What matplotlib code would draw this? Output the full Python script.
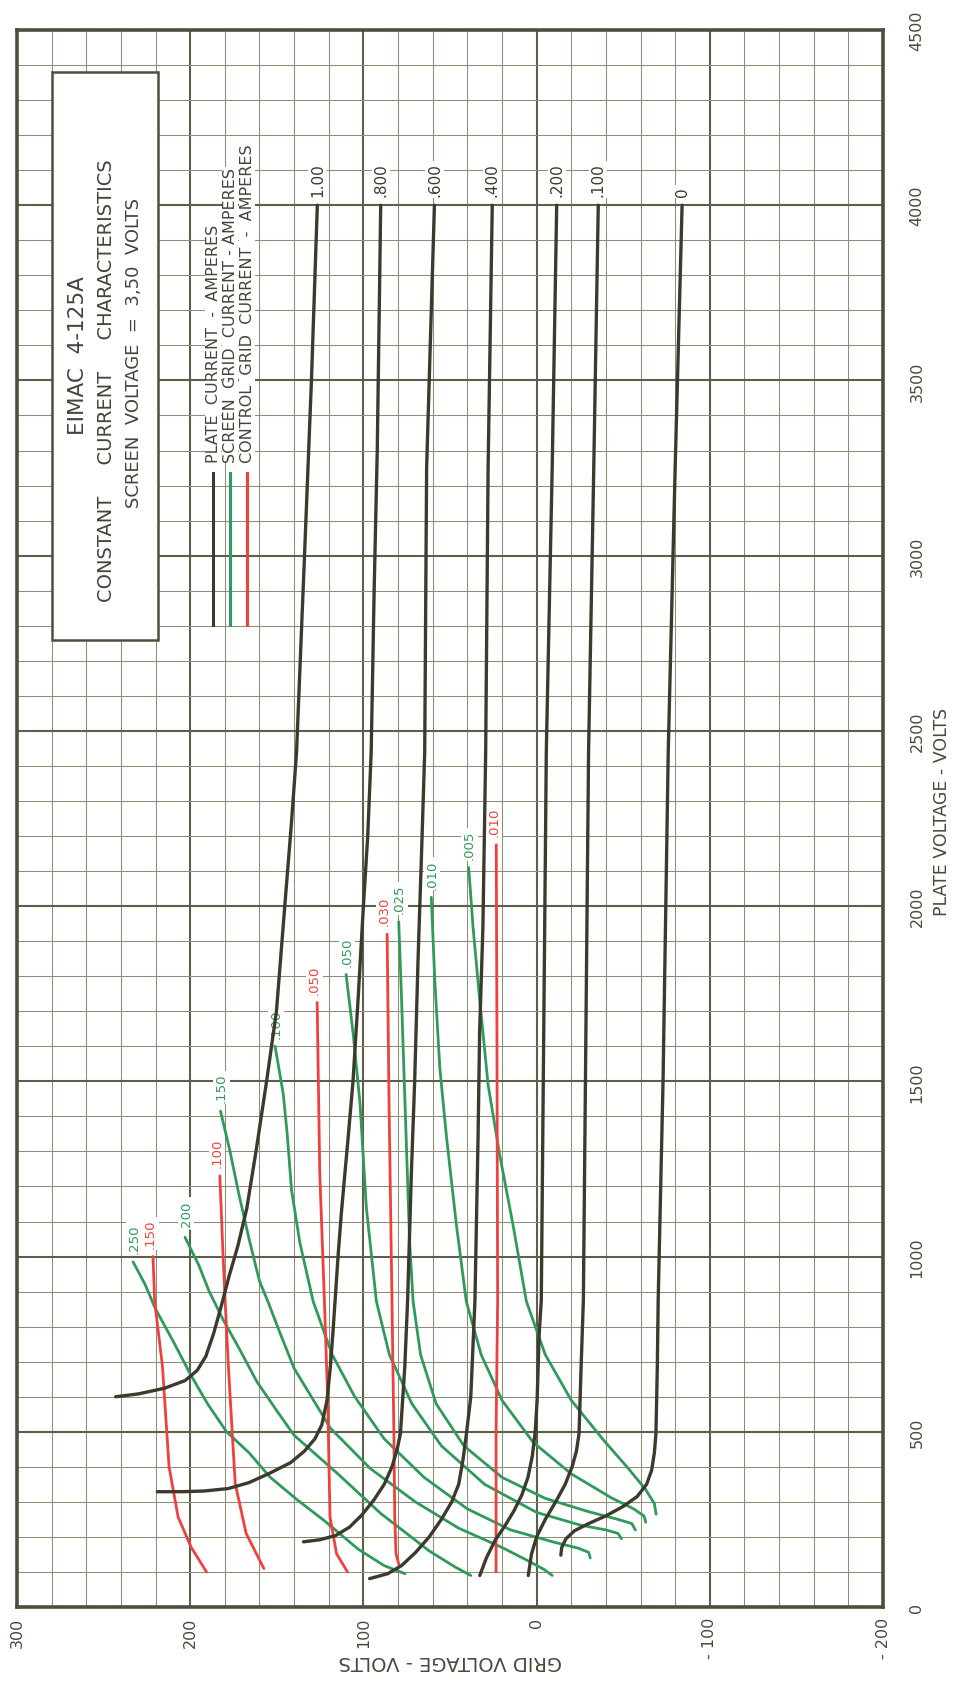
import matplotlib
matplotlib.use('Agg')
import matplotlib.pyplot as plt

# ---------------- data ----------------
grid_ticks = [300, 200, 100, 0, -100, -200]
grid_tick_labels = ['300', '200', '100', '0', '- 100', '- 200']
plate_ticks = [0, 500, 1000, 1500, 2000, 2500, 3000, 3500, 4000, 4500]
plate_tick_labels = ['0', '500', '1000', '1500', '2000', '2500', '3000', '3500', '4000', '4500']

# plate current curves (grid volts, plate volts)
plate_labels = ['1.00', '.800', '.600', '.400', '.200', '.100', '0']
p100_vg = [126.6, 130, 134, 138.6, 141.5, 145.4, 150.2, 155.9, 161.7, 167.3, 172.5, 177.5, 182, 186.5, 191, 196, 203, 215, 230, 243]
p100_vp = [4000, 3500, 3000, 2440, 2240, 2000, 1700, 1500, 1310, 1138, 1030, 945, 860, 780, 715, 675, 646, 624, 608, 600]
p080_vg = [90, 92, 93.8, 95.5, 97.5, 100, 103, 106, 108.8, 111, 112.8, 114.5, 116, 117.5, 119, 121, 124, 128, 134, 142, 154, 166, 178, 192, 205, 219]
p080_vp = [4000, 3300, 2900, 2440, 2200, 2000, 1740, 1500, 1340, 1220, 1120, 1010, 900, 790, 690, 590, 520, 480, 445, 412, 382, 355, 338, 331, 329, 329]
p060_vg = [59, 63.5, 64.6, 66.5, 68.5, 70.4, 72.3, 74.5, 76.1, 78.6, 80.5, 83.5, 88, 94, 101, 108, 116, 125, 134.6]
p060_vp = [4000, 3250, 2440, 2140, 1840, 1500, 1240, 872, 686, 495, 450, 400, 350, 305, 262, 228, 204, 192, 186]
p040_vg = [25.6, 28, 29.4, 31, 32.9, 33.8, 35.6, 38, 40.5, 42.5, 45, 49, 55, 62, 70, 78, 86, 96.4]
p040_vp = [4000, 3250, 2440, 1940, 1640, 1340, 874, 600, 495, 420, 350, 300, 250, 200, 155, 118, 95, 81]
p020_vg = [-11.6, -9, -5.6, -2.7, -1.5, -0.3, 0.8, 2.5, 5, 8.5, 13, 18.5, 24, 29, 32.8]
p020_vp = [4000, 3250, 2440, 874, 781, 590, 500, 430, 370, 320, 275, 230, 190, 140, 90]
p010_vg = [-35.6, -33, -30, -27, -25.7, -24.5, -23, -20.5, -16.5, -11, -5, 0, 3, 4.8]
p010_vp = [4000, 3250, 2440, 876, 686, 495, 445, 400, 350, 300, 250, 200, 150, 90]
p000_vg = [-84, -80, -76, -73, -70.2, -69.7, -68.9, -68, -66.4, -63.5, -58, -50, -40, -30, -22, -17, -14.5, -14]
p000_vp = [4000, 3250, 2440, 1500, 876, 686, 495, 440, 390, 350, 315, 287, 260, 238, 218, 195, 170, 148]

# screen grid current curves
screen_labels = ['.250', '.200', '.150', '.100', '.050', '.025', '.010', '.005']
g250_vg = [233, 226, 220, 210, 200, 190, 179, 166, 154, 138, 123, 103, 88, 76]
g250_vp = [985, 920, 850, 760, 665, 580, 500, 440, 371, 305, 248, 165, 118, 95]
g200_vg = [203, 195, 189, 181, 172, 161.5, 150, 140, 115, 90, 62, 47, 38]
g200_vp = [1055, 975, 900, 820, 740, 643, 560, 490, 381, 267, 160, 114, 90]
g150_vg = [182.5, 177, 172, 166, 160, 155, 148, 140, 119, 96, 70, 45, 20, 5, -4, -9]
g150_vp = [1415, 1300, 1180, 1050, 930, 870, 780, 681, 510, 395, 300, 225, 170, 132, 108, 90]
g100_vg = [151, 146.3, 144, 141.5, 136.7, 129, 118, 105, 88, 65, 40, 15, -10, -24, -30, -31]
g100_vp = [1600, 1465, 1350, 1190, 1040, 872, 720, 600, 480, 370, 280, 220, 185, 168, 156, 140]
g050_vg = [110, 106, 102, 98.3, 92.5, 85, 72, 55, 30, 0, -25, -40, -47, -49]
g050_vp = [1805, 1640, 1440, 1140, 872, 720, 580, 460, 350, 270, 234, 220, 210, 195]
g025_vg = [79.6, 78, 76, 73.3, 71.3, 67, 58, 42, 20, -5, -30, -47, -55, -57]
g025_vp = [1955, 1740, 1440, 1040, 872, 720, 580, 460, 370, 310, 272, 250, 238, 220]
g010_vg = [60.8, 58.8, 55.9, 52, 46.3, 40.6, 32, 20, 2, -20, -43, -56, -62, -63]
g010_vp = [2025, 1790, 1540, 1340, 1090, 872, 720, 590, 470, 380, 312, 280, 260, 242]
g005_vg = [39.2, 36.7, 33, 28, 21.3, 13.6, 5.9, -5, -20, -38, -53, -63, -68, -69]
g005_vp = [2110, 1940, 1740, 1490, 1290, 1090, 872, 720, 590, 480, 395, 335, 295, 265]

# control grid current curves
control_labels = ['.150', '.100', '.050', '.030', '.010']
r150_vg = [221.5, 220.5, 216, 212.2, 207, 199.5, 190.6]
r150_vp = [1000, 872, 686, 400, 257, 171, 100]
r100_vg = [182.9, 181, 179.8, 177.9, 174, 167.7, 157.5]
r100_vp = [1230, 1000, 871, 681, 352, 210, 110]
r050_vg = [126.7, 125.2, 122.5, 120.6, 119.3, 115.5, 109.2]
r050_vp = [1725, 1240, 872, 590, 257, 152, 100]
r030_vg = [86.3, 85.2, 83.5, 82.4, 81.9, 81.2, 79.1]
r030_vp = [1920, 1440, 872, 495, 257, 152, 114]
r010_vg = [23.3, 22.9, 22.5, 23.4, 23.4]
r010_vp = [2175, 1640, 872, 495, 100]

title1 = 'EIMAC  4-125A'
title2 = 'CONSTANT     CURRENT     CHARACTERISTICS'
title3 = 'SCREEN  VOLTAGE  =  3,50  VOLTS'
legend_texts = ['PLATE  CURRENT  -  AMPERES', 'SCREEN  GRID  CURRENT - AMPERES',
                'CONTROL  GRID  CURRENT  -  AMPERES']
xlabel = 'GRID VOLTAGE - VOLTS'
ylabel = 'PLATE VOLTAGE - VOLTS'

# ---------------- styles ----------------
DARK = '#3b3a2c'
GREEN = '#2f9a5a'
RED = '#f0403c'
GRID_MINOR = '#8f8d78'
GRID_MAJOR = '#5f5e4b'
TXT = '#4a493b'
W, H = 955, 1683
L, R, T, B = 17, 883, 31, 1608

plt.rcParams['font.family'] = ['DejaVu Sans']
fig = plt.figure(figsize=(W / 100, H / 100), dpi=100)
fig.patch.set_facecolor('white')
ax = fig.add_axes([L / W, 1 - B / H, (R - L) / W, (B - T) / H])
ax.set_xlim(300, -200)
ax.set_ylim(0, 4500)

for v in range(-200, 301, 20):
    major = (v % 100 == 0)
    ax.axvline(v, color=GRID_MAJOR if major else GRID_MINOR, lw=1.5 if major else 0.75, zorder=1)
for v in range(0, 4501, 100):
    major = (v % 500 == 0)
    ax.axhline(v, color=GRID_MAJOR if major else GRID_MINOR, lw=1.5 if major else 0.75, zorder=1)
for s in ax.spines.values():
    s.set_color('#4f4e3e')
    s.set_linewidth(2.6)

ax.set_xticks(grid_ticks, labels=grid_tick_labels, rotation=90)
ax.yaxis.tick_right()
ax.set_yticks(plate_ticks, labels=plate_tick_labels, rotation=90, va='center')
ax.tick_params(axis='both', length=0, colors=TXT, labelsize=11.5)
ax.tick_params(axis='x', pad=7)
ax.tick_params(axis='y', pad=19)
ax.set_xlabel(xlabel, rotation=180, fontsize=14, color=TXT)
ax.xaxis.set_label_coords(0.50, -0.028)

lbl_box = dict(facecolor='white', edgecolor='none', pad=1.2)

plates = [(p100_vg, p100_vp), (p080_vg, p080_vp), (p060_vg, p060_vp), (p040_vg, p040_vp),
          (p020_vg, p020_vp), (p010_vg, p010_vp), (p000_vg, p000_vp)]
for (vg, vp), lab in zip(plates, plate_labels):
    ax.plot(vg, vp, color=DARK, lw=2.4, zorder=4, solid_capstyle='round', solid_joinstyle='round')
    ax.text(vg[0], vp[0] + 25, lab, rotation=90, ha='center', va='bottom', fontsize=11,
            color=DARK, bbox=lbl_box, zorder=3)

screens = [(g250_vg, g250_vp), (g200_vg, g200_vp), (g150_vg, g150_vp), (g100_vg, g100_vp),
           (g050_vg, g050_vp), (g025_vg, g025_vp), (g010_vg, g010_vp), (g005_vg, g005_vp)]
for (vg, vp), lab in zip(screens, screen_labels):
    ax.plot(vg, vp, color=GREEN, lw=2.0, zorder=3, solid_capstyle='round', solid_joinstyle='round')
    ax.text(vg[0] - 0.5, vp[0] + 25, lab, rotation=90, ha='center', va='bottom', fontsize=9.5,
            color=GREEN, bbox=lbl_box, zorder=2)

controls = [(r150_vg, r150_vp), (r100_vg, r100_vp), (r050_vg, r050_vp), (r030_vg, r030_vp),
            (r010_vg, r010_vp)]
for (vg, vp), lab in zip(controls, control_labels):
    ax.plot(vg, vp, color=RED, lw=2.0, zorder=3, solid_capstyle='round', solid_joinstyle='round')
    ax.text(vg[0] + 1.5, vp[0] + 25, lab, rotation=90, ha='center', va='bottom', fontsize=9.5,
            color=RED, bbox=lbl_box, zorder=2)

# title box (figure pixel coords)
def fx(px):
    return px / W

def fy(py):
    return 1 - py / H

fig.text(fx(942), fy(812), ylabel, rotation=90, ha='center', va='center', fontsize=12.5, color=TXT)

bx0, bx1, by0, by1 = 52, 158, 73, 641
fig.patches.append(plt.Rectangle((fx(bx0), fy(by1)), fx(bx1) - fx(bx0), fy(by0) - fy(by1),
                                 transform=fig.transFigure, facecolor='white',
                                 edgecolor='#4f4e3e', lw=1.8, zorder=5))
fig.text(fx(78), fy(356), title1, rotation=90, ha='center', va='center', fontsize=15.5,
         color='#45443a', zorder=6)
fig.text(fx(106), fy(381), title2, rotation=90, ha='center', va='center', fontsize=14,
         color='#45443a', zorder=6)
fig.text(fx(134), fy(353), title3, rotation=90, ha='center', va='center', fontsize=13,
         color='#45443a', zorder=6)

# legend block
for i, (txt, col) in enumerate(zip(legend_texts, [DARK, GREEN, RED])):
    x = 213 + i * 17
    fig.add_artist(plt.Line2D([fx(x), fx(x)], [fy(626), fy(474)], transform=fig.transFigure,
                              color=col, lw=2.2, zorder=6))
    fig.text(fx(x), fy(463), txt, rotation=90, ha='center', va='bottom', fontsize=11.5,
             color='#45443a', zorder=6, bbox=dict(facecolor='white', edgecolor='none', pad=0.3))

fig.savefig('out.png', dpi=100, facecolor='white')
